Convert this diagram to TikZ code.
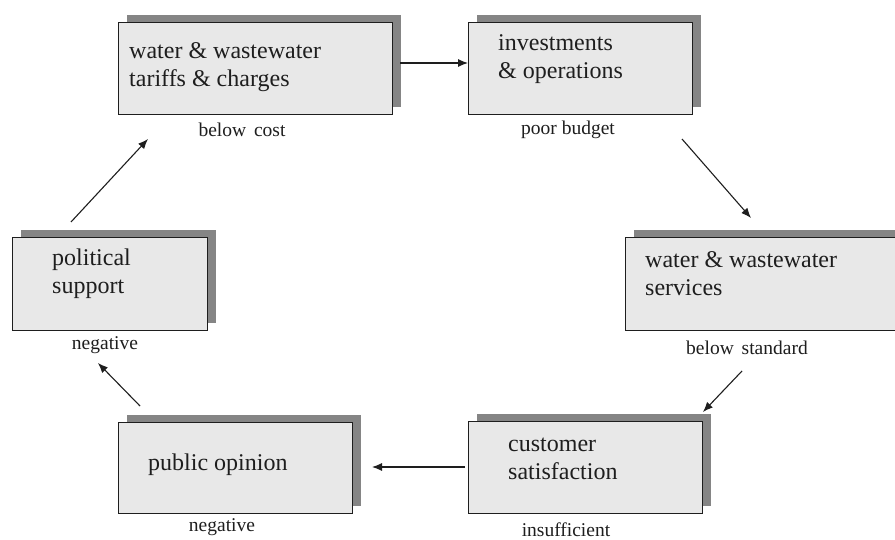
\documentclass[tikz,border=0pt]{standalone}
\usepackage{fontspec}
\setmainfont{Liberation Serif}
\usetikzlibrary{shadows,arrows.meta}
\definecolor{boxfill}{HTML}{E8E8E8}
\definecolor{shadowgray}{HTML}{858585}
\definecolor{ink}{HTML}{1E1E1E}
\tikzset{
  box/.style={draw=ink, line width=1.3pt, fill=boxfill, anchor=north west, inner sep=0pt,
    general shadow={shadow xshift=8pt, shadow yshift=8pt, fill=shadowgray}},
  boxtext/.style={anchor=west, inner sep=0pt, align=left, text=ink,
    font=\fontsize{24}{28}\selectfont},
  state/.style={inner sep=0pt, text=ink, font=\fontsize{19.5}{22}\selectfont},
  flow/.style={draw=ink, line width=1.1pt, -{Latex[length=10pt,width=8pt]}}
}
\begin{document}
\begin{tikzpicture}[x=1pt,y=-1pt]
\useasboundingbox (0,0) rectangle (895,540);
\clip (0,0) rectangle (895,540);
\fill[white] (0,0) rectangle (895,540);

% boxes
\node[box, minimum width=274pt, minimum height=92pt] (b1) at (118,22) {};
\node[box, minimum width=224pt, minimum height=92pt] (b2) at (468,22) {};
\node[box, minimum width=290pt, minimum height=93pt] (b3) at (625,237) {};
\node[box, minimum width=195pt, minimum height=93pt] (b4) at (12,237) {};
\node[box, minimum width=234pt, minimum height=91pt] (b5) at (118,422) {};
\node[box, minimum width=234pt, minimum height=92pt] (b6) at (468,421) {};

% box texts
\node[boxtext] (t1) at (129,67) {water \& wastewater\\tariffs \& charges};
\node[boxtext] (t2) at (498,59) {investments\\\& operations};
\node[boxtext] (t3) at (645,274) {water \& wastewater\\services};
\node[boxtext] (t4) at (52,274) {political\\support};
\node[boxtext] (t5) at (148,465) {public opinion};
\node[boxtext] (t6) at (508,459) {customer\\satisfaction};

% state labels
\node[state] (s1) at (242,130) {below\hspace{0.4em}cost};
\node[state] (s2) at (568,130) {poor budget};
\node[state] (s3) at (747,348) {below\hspace{0.4em}standard};
\node[state] (s4) at (105,345) {negative};
\node[state] (s5) at (222,527) {negative};
\node[state] (s6) at (566,530) {insufficient};

% connector end points
\coordinate (a1s) at (400,63);  \coordinate (a1e) at (468,63);
\coordinate (a2s) at (682,139); \coordinate (a2e) at (751,218);
\coordinate (a3s) at (742,371); \coordinate (a3e) at (703,412);
\coordinate (a4s) at (465,467); \coordinate (a4e) at (372,467);
\coordinate (a5s) at (140,406); \coordinate (a5e) at (98,363);
\coordinate (a6s) at (71,222);  \coordinate (a6e) at (148,139);

\draw[flow] (a1s) -- (a1e);
\draw[flow] (a2s) -- (a2e);
\draw[flow] (a3s) -- (a3e);
\draw[flow] (a4s) -- (a4e);
\draw[flow] (a5s) -- (a5e);
\draw[flow] (a6s) -- (a6e);
\end{tikzpicture}
\end{document}
